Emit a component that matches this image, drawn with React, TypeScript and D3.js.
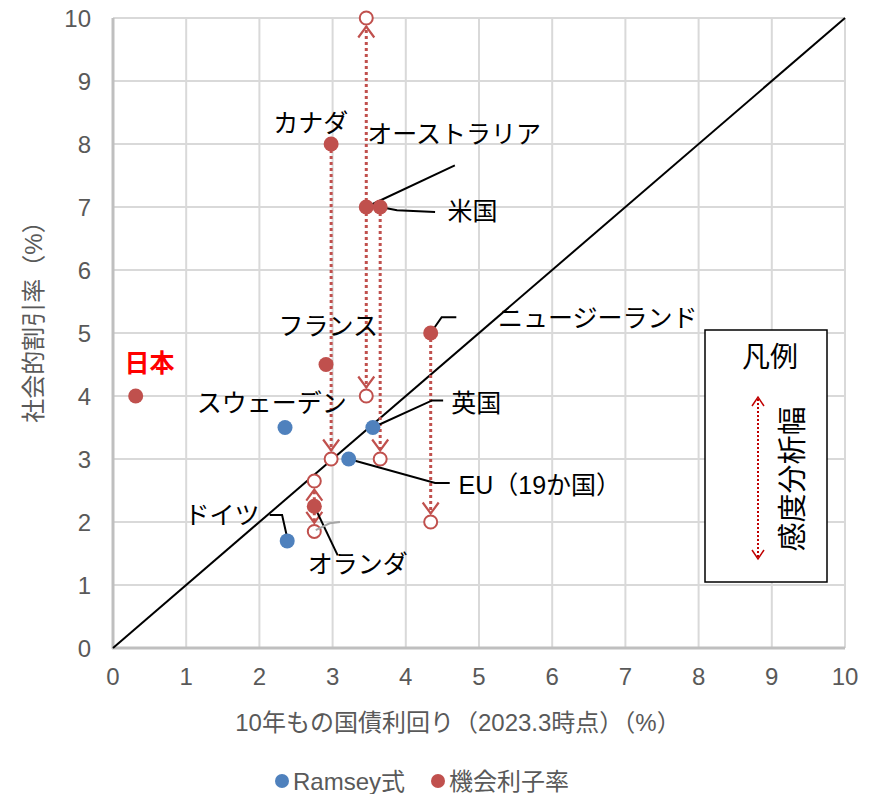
import React from "react";
import * as d3 from "d3";

// ---- data ----
const ramseyNames = ["スウェーデン", "英国", "EU（19か国）", "ドイツ"];
const ramseyX = [2.35, 3.55, 3.22, 2.38];
const ramseyY = [3.5, 3.5, 3.0, 1.7];

const oppNames = ["日本", "カナダ", "オーストラリア", "米国", "フランス", "ニュージーランド", "オランダ"];
const oppX = [0.31, 2.98, 3.46, 3.65, 2.91, 4.34, 2.75];
const oppY = [4.0, 8.0, 7.0, 7.0, 4.5, 5.0, 2.25];

// sensitivity ranges: x, from, to
const sensX = [2.98, 3.46, 3.46, 3.65, 4.34, 2.75, 2.75];
const sensFrom = [8.0, 7.0, 7.0, 7.0, 5.0, 2.25, 2.25];
const sensTo = [3.0, 10.0, 4.0, 3.0, 2.0, 2.65, 1.85];

const xTicks = [0, 1, 2, 3, 4, 5, 6, 7, 8, 9, 10];
const yTicks = [0, 1, 2, 3, 4, 5, 6, 7, 8, 9, 10];

const xTitle = "10年もの国債利回り（2023.3時点）（%）";
const yTitle = "社会的割引率（%）";
const seriesNames = ["Ramsey式", "機会利子率"];
const legendTitle = "凡例";
const legendLabel = "感度分析幅";

// label layout (data units)
type Lab = { text: string; x: number; y: number; anchor: string; color?: string; bold?: boolean; leader?: [number, number][] };
const labels: Lab[] = [
  { text: "カナダ", x: 2.70, y: 8.33, anchor: "middle" },
  { text: "オーストラリア", x: 4.66, y: 8.16, anchor: "middle", leader: [[3.46, 7.0], [4.67, 7.66]] },
  { text: "米国", x: 4.57, y: 6.94, anchor: "start", leader: [[3.65, 7.0], [3.88, 6.95], [4.40, 6.92]] },
  { text: "フランス", x: 2.94, y: 5.11, anchor: "middle" },
  { text: "ニュージーランド", x: 5.26, y: 5.24, anchor: "start", leader: [[4.34, 5.0], [4.49, 5.25], [4.69, 5.25]] },
  { text: "日本", x: 0.5, y: 4.52, anchor: "middle", color: "#FF0000", bold: true },
  { text: "スウェーデン", x: 2.17, y: 3.89, anchor: "middle" },
  { text: "英国", x: 4.62, y: 3.89, anchor: "start", leader: [[3.55, 3.5], [4.36, 3.93], [4.51, 3.93]] },
  { text: "EU（19か国）", x: 4.72, y: 2.58, anchor: "start", leader: [[3.22, 3.0], [4.40, 2.62], [4.60, 2.62]] },
  { text: "ドイツ", x: 2.0, y: 2.11, anchor: "end", leader: [[2.14, 2.11], [2.31, 2.11], [2.38, 1.75]] },
  { text: "オランダ", x: 2.66, y: 1.33, anchor: "start", leader: [[2.75, 2.25], [3.07, 1.47]] },
];
const grayLeader: [number, number][] = [[2.77, 1.87], [2.96, 1.98], [3.10, 2.0]];

const RED = "#C0504D";
const BLUE = "#4F81BD";
const JP = "'Liberation Sans', Arial, 'Noto Sans CJK JP', sans-serif";

export default function App() {
  const W = 872, H = 794;
  const x = d3.scaleLinear().domain([0, 10]).range([113, 845]);
  const y = d3.scaleLinear().domain([0, 10]).range([648, 18]);
  const line = d3.line<[number, number]>().x(d => x(d[0])).y(d => y(d[1]));

  const chevron = (cx: number, tipY: number, dir: number, w = 8, h = 10) =>
    `M${cx - w},${tipY - dir * h} L${cx},${tipY} L${cx + w},${tipY - dir * h}`;

  const rOpen = 6.5;
  return (
    <svg width={W} height={H} style={{ position: "absolute", left: 0, top: 0, background: "#fff" }} fontFamily={JP}>
      {/* grid */}
      {xTicks.slice(1).map(t => (
        <line key={"gx" + t} x1={x(t)} x2={x(t)} y1={y(0)} y2={y(10)} stroke="#D9D9D9" strokeWidth={2} />
      ))}
      {yTicks.slice(1).map(t => (
        <line key={"gy" + t} x1={x(0)} x2={x(10)} y1={y(t)} y2={y(t)} stroke="#D9D9D9" strokeWidth={2} />
      ))}
      {/* axes */}
      <line x1={x(0)} x2={x(0)} y1={y(0) + 1} y2={y(10)} stroke="#BFBFBF" strokeWidth={3} />
      <line x1={x(0) - 1} x2={x(10)} y1={y(0)} y2={y(0)} stroke="#BFBFBF" strokeWidth={3} />
      {/* tick labels */}
      {xTicks.map(t => (
        <text key={"tx" + t} x={x(t)} y={685} textAnchor="middle" fontSize={24} fill="#595959">{t}</text>
      ))}
      {yTicks.map(t => (
        <text key={"ty" + t} x={91} y={y(t) + 8.5} textAnchor="end" fontSize={24} fill="#595959">{t}</text>
      ))}
      {/* axis titles */}
      <text x={458} y={731} textAnchor="middle" fontSize={24} fill="#595959">{xTitle}</text>
      <text transform={`translate(42,316) rotate(-90)`} textAnchor="middle" fontSize={24} fill="#595959">{yTitle}</text>

      {/* diagonal */}
      <path d={line([[0, 0], [10, 10]])!} stroke="#000" strokeWidth={2} fill="none" />

      {/* sensitivity ranges */}
      {sensX.map((sx, i) => {
        const dir = sensTo[i] > sensFrom[i] ? -1 : 1;
        const cy = y(sensTo[i]);
        const tip = cy - dir * (rOpen + 2);
        return (
          <g key={"s" + i}>
            <line x1={x(sx)} x2={x(sx)} y1={y(sensFrom[i])} y2={tip} stroke={RED} strokeWidth={3} strokeDasharray="3,3" />
            <path d={chevron(x(sx), tip, dir, 8, 11)} stroke={RED} strokeWidth={2.2} fill="none" />
            <circle cx={x(sx)} cy={cy} r={rOpen} fill="#fff" stroke={RED} strokeWidth={2} />
          </g>
        );
      })}

      {/* leaders */}
      {labels.filter(l => l.leader).map((l, i) => (
        <path key={"ld" + i} d={line(l.leader!)!} stroke="#000" strokeWidth={2} fill="none" />
      ))}
      <path d={line(grayLeader)!} stroke="#A6A6A6" strokeWidth={2} fill="none" />

      {/* points */}
      {oppX.map((v, i) => (
        <circle key={"o" + i} cx={x(v)} cy={y(oppY[i])} r={7.5} fill={RED} />
      ))}
      {ramseyX.map((v, i) => (
        <circle key={"r" + i} cx={x(v)} cy={y(ramseyY[i])} r={7.5} fill={BLUE} />
      ))}

      {/* labels */}
      {labels.map((l, i) => (
        <text key={"lb" + i} x={x(l.x)} y={y(l.y) + 9} textAnchor={l.anchor as any} fontSize={25}
          fill={l.color || "#000"} fontWeight={l.bold ? "bold" : "normal"}>{l.text}</text>
      ))}

      {/* inner legend box */}
      <rect x={705} y={330} width={122} height={252} fill="#fff" stroke="#000" strokeWidth={1.5} />
      <text x={770} y={367} textAnchor="middle" fontSize={28} fill="#000">{legendTitle}</text>
      <line x1={758} x2={758} y1={399} y2={557} stroke="#C00000" strokeWidth={2} strokeDasharray="2,2" />
      <path d={chevron(758, 397, -1, 6, 9)} stroke="#C00000" strokeWidth={1.5} fill="none" />
      <path d={chevron(758, 559, 1, 6, 9)} stroke="#C00000" strokeWidth={1.5} fill="none" />
      <text transform="translate(803,479) rotate(-90)" textAnchor="middle" fontSize={29} fill="#000">{legendLabel}</text>

      {/* bottom legend */}
      <circle cx={282} cy={781} r={7} fill={BLUE} />
      <text x={293} y={789.5} fontSize={24} fill="#595959">{seriesNames[0]}</text>
      <circle cx={438} cy={781} r={7} fill={RED} />
      <text x={449} y={789.5} fontSize={24} fill="#595959">{seriesNames[1]}</text>
    </svg>
  );
}
